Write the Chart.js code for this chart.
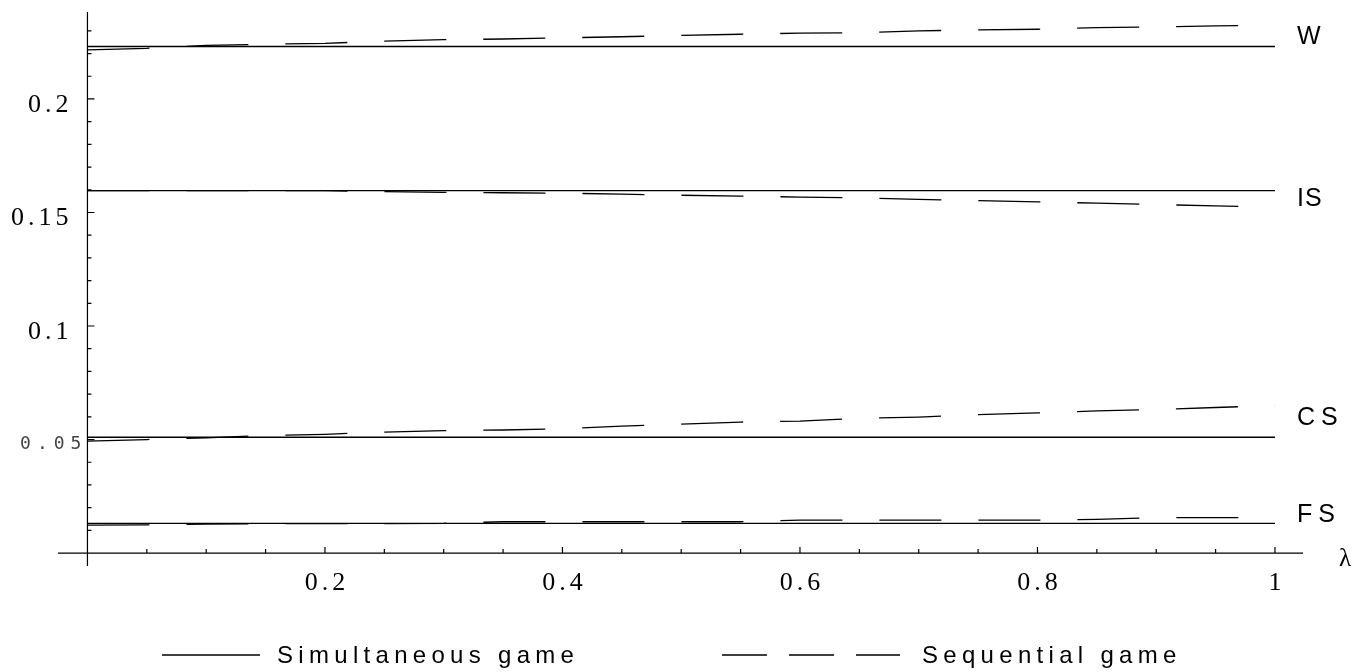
<!DOCTYPE html>
<html>
<head>
<meta charset="utf-8">
<script src="https://cdn.jsdelivr.net/npm/chart.js@4.4.1/dist/chart.umd.min.js"></script>
<style>
  html, body { margin: 0; background: #fff; }
  #wrap { width: 1355px; height: 672px; }
</style>
</head>
<body>
<div id="wrap"><canvas id="chart" width="1355" height="672"></canvas></div>
<script>
// lambda grid for the sequential game curves
const lambda = [0, 0.05, 0.1, 0.15, 0.2, 0.25, 0.3, 0.35, 0.4, 0.45, 0.5,
                0.55, 0.6, 0.65, 0.7, 0.75, 0.8, 0.85, 0.9, 0.95, 1];

// simultaneous game: flat in lambda
const simX = [0, 1];
const simW = [0.2231, 0.2231];
const simIS = [0.1596, 0.1596];
const simCS = [0.0510, 0.0510];
const simFS = [0.0131, 0.0131];

// sequential game
const seqW = [0.2216, 0.2223, 0.2236, 0.2241, 0.2245, 0.2255, 0.2261, 0.2264, 0.2269, 0.2274, 0.2280,
              0.2285, 0.2290, 0.2291, 0.2300, 0.2304, 0.2307, 0.2314, 0.2317, 0.2322, 0.2324];
const seqIS = [0.1596, 0.1596, 0.1596, 0.1596, 0.1596, 0.1592, 0.1589, 0.1587, 0.1585, 0.1581, 0.1576,
               0.1572, 0.1568, 0.1564, 0.1558, 0.1552, 0.1547, 0.1541, 0.1535, 0.1529, 0.1524];
const seqCS = [0.0493, 0.0500, 0.0507, 0.0518, 0.0523, 0.0533, 0.0539, 0.0542, 0.0548, 0.0559, 0.0568,
               0.0577, 0.0581, 0.0593, 0.0599, 0.0610, 0.0617, 0.0626, 0.0632, 0.0641, 0.0650];
const seqFS = [0.0123, 0.0124, 0.0128, 0.0129, 0.0130, 0.0130, 0.0131, 0.0138, 0.0138, 0.0138, 0.0138,
               0.0138, 0.0145, 0.0145, 0.0145, 0.0145, 0.0145, 0.0148, 0.0156, 0.0156, 0.0156];

// axes
const xTickValues = [0.2, 0.4, 0.6, 0.8, 1];
const xTickLabels = ['0.2', '0.4', '0.6', '0.8', '1'];
const yTickValues = [0.05, 0.1, 0.15, 0.2];
const yTickLabels = ['0.05', '0.1', '0.15', '0.2'];

// curve names at the right end
const curveNames = ['W', 'IS', 'CS', 'FS'];
const curveNameY = [0.2271, 0.1559, 0.0595, 0.0165];

const legendNames = ['Simultaneous game', 'Sequential game'];

function pts(xs, ys) {
    return xs.map((x, i) => ({ x: x, y: ys[i] }));
}

function solid(ys) {
    return { data: pts(simX, ys), borderColor: '#000', borderWidth: 1.3, pointRadius: 0, fill: false };
}

function dashed(ys) {
    return { data: pts(lambda, ys), borderColor: '#000', borderWidth: 1.3, borderDash: [62, 37],
             pointRadius: 0, fill: false };
}

// Mathematica-style axes through the origin, ticks inside
const mmaAxes = {
    id: 'mmaAxes',
    afterDraw(chart) {
        const ctx = chart.ctx;
        const xs = chart.scales.x;
        const ys = chart.scales.y;
        const area = chart.chartArea;
        const x0 = xs.getPixelForValue(0);
        const y0 = ys.getPixelForValue(0);
        ctx.save();
        ctx.strokeStyle = '#000';
        ctx.lineWidth = 1.2;
        ctx.beginPath();
        ctx.moveTo(area.left, y0); ctx.lineTo(area.right, y0);
        ctx.moveTo(x0, area.top); ctx.lineTo(x0, area.bottom);
        ctx.stroke();

        // x ticks every 0.05, major every 0.2
        ctx.beginPath();
        for (let i = 1; i <= 20; i++) {
            const px = xs.getPixelForValue(i * 0.05);
            const len = (i % 4 === 0) ? 6 : 4;
            ctx.moveTo(px, y0); ctx.lineTo(px, y0 - len);
        }
        // y ticks every 0.01, major every 0.05
        for (let i = 1; i <= 23; i++) {
            const py = ys.getPixelForValue(i * 0.01);
            const len = (i % 5 === 0) ? 7 : 4;
            ctx.moveTo(x0, py); ctx.lineTo(x0 + len, py);
        }
        ctx.stroke();

        // tick labels
        ctx.fillStyle = '#000';
        ctx.textBaseline = 'middle';
        ctx.font = '26px "Liberation Serif", serif';
        ctx.letterSpacing = '4px';
        ctx.textAlign = 'center';
        xTickValues.forEach((v, i) => {
            ctx.fillText(xTickLabels[i], xs.getPixelForValue(v) + 2, y0 + 30);
        });
        ctx.textAlign = 'right';
        yTickValues.forEach((v, i) => {
            const py = ys.getPixelForValue(v);
            if (yTickLabels[i] === '0.05') {
                ctx.save();
                ctx.font = '18px "DejaVu Sans Mono", monospace';
                ctx.letterSpacing = '6px';
                ctx.fillStyle = '#444';
                ctx.fillText(yTickLabels[i], x0, py + 5);
                ctx.restore();
            } else {
                ctx.fillText(yTickLabels[i], x0 - 15, py + 6);
            }
        });

        // lambda
        ctx.textAlign = 'left';
        ctx.letterSpacing = '0px';
        ctx.font = '25px "Liberation Serif", serif';
        ctx.fillText('\u03bb', area.right + 36, y0 + 6);

        // curve names
        ctx.font = '25px "Liberation Sans", Arial, sans-serif';
        curveNames.forEach((n, i) => {
            ctx.letterSpacing = n === 'IS' || n === 'W' ? '1px' : '6px';
            ctx.fillText(n, xs.getPixelForValue(1.0185), ys.getPixelForValue(curveNameY[i]));
        });

        // legend
        const ly = 655;
        ctx.lineWidth = 1.3;
        ctx.beginPath();
        ctx.moveTo(162, ly); ctx.lineTo(260, ly);
        ctx.stroke();
        ctx.setLineDash([45, 22]);
        ctx.beginPath();
        ctx.moveTo(722, ly); ctx.lineTo(900, ly);
        ctx.stroke();
        ctx.setLineDash([]);
        ctx.font = '24px "Liberation Sans", Arial, sans-serif';
        ctx.letterSpacing = '5.3px';
        ctx.fillText(legendNames[0], 277, ly + 1);
        ctx.fillText(legendNames[1], 922, ly + 1);
        ctx.restore();
    }
};

new Chart(document.getElementById('chart'), {
    type: 'line',
    data: {
        datasets: [
            solid(simW), solid(simIS), solid(simCS), solid(simFS),
            dashed(seqW), dashed(seqIS), dashed(seqCS), dashed(seqFS)
        ]
    },
    options: {
        responsive: false,
        animation: false,
        layout: { padding: { left: 58, right: 52, top: 12, bottom: 106 } },
        plugins: { legend: { display: false }, tooltip: { enabled: false } },
        elements: { line: { tension: 0 } },
        scales: {
            x: { type: 'linear', display: false, min: -0.0248, max: 1.0236 },
            y: { type: 'linear', display: false, min: -0.0057, max: 0.2383 }
        }
    },
    plugins: [mmaAxes]
});
</script>
</body>
</html>
